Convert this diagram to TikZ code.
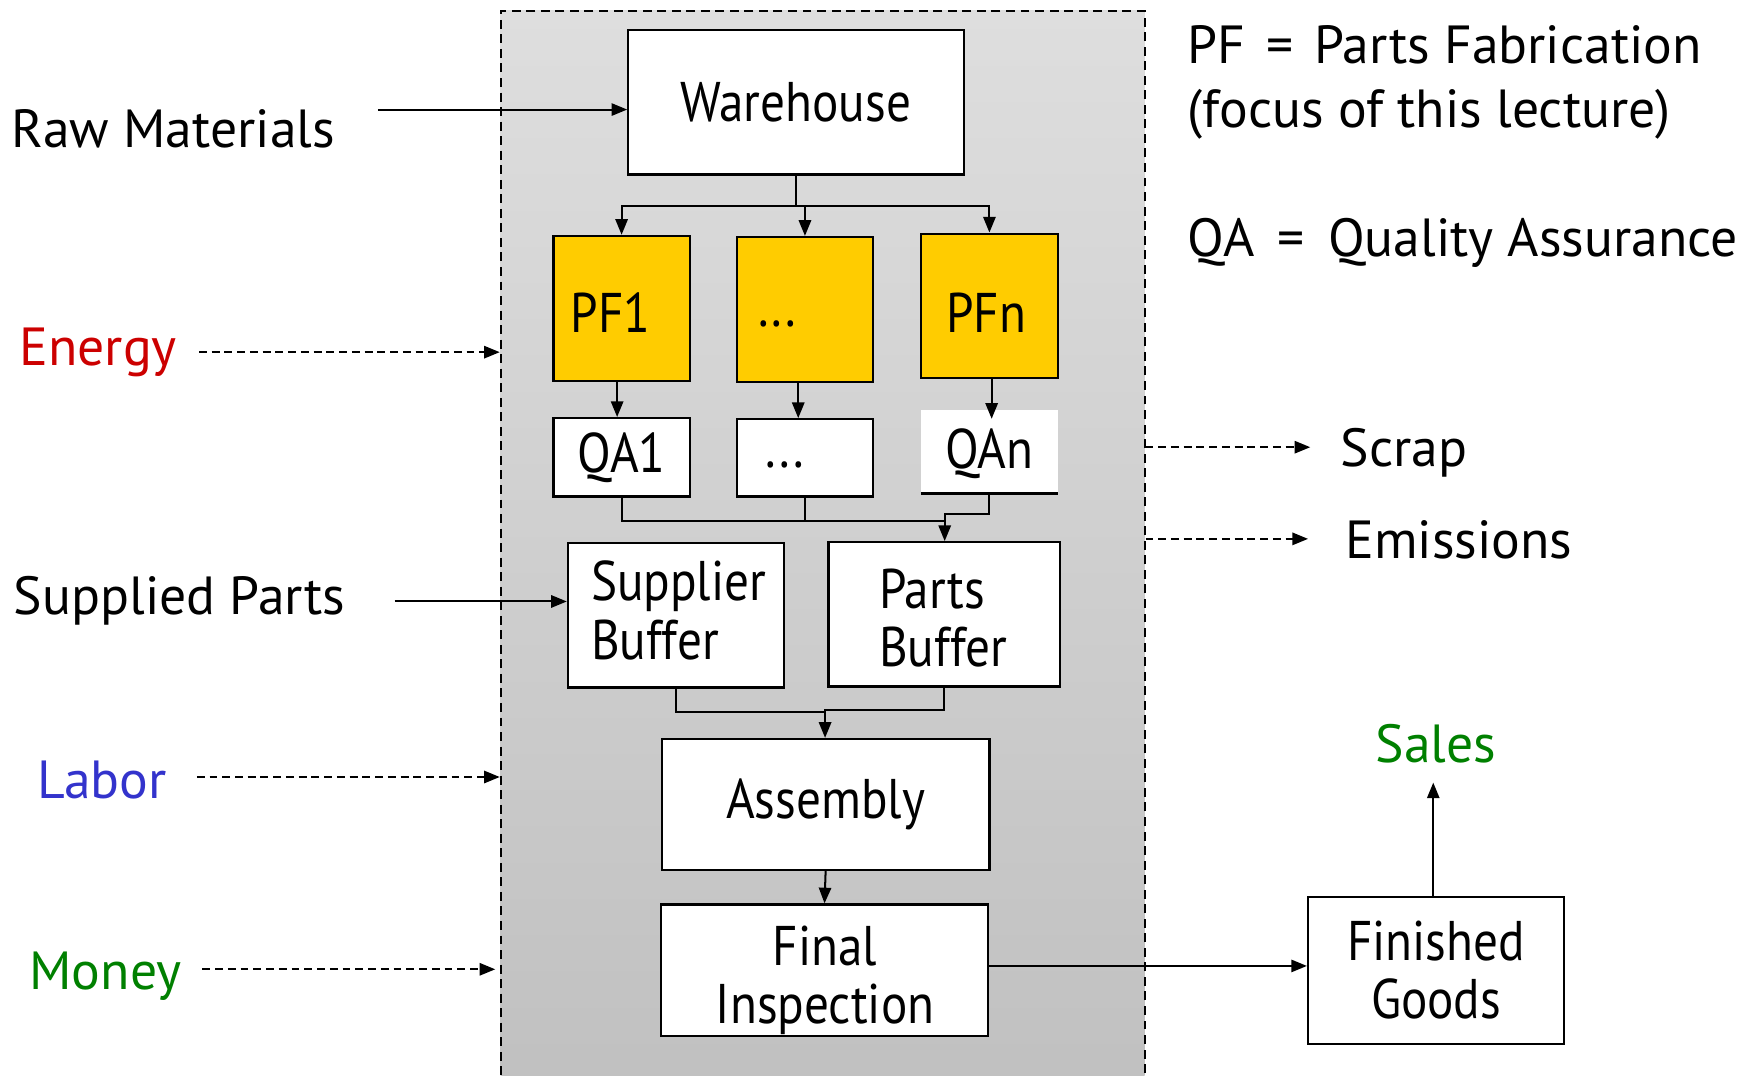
\documentclass[tikz,border=0pt]{standalone}
\usepackage{fontspec}
\setmainfont{PT Sans}
\newfontfamily\bxfont[FakeStretch=0.88]{PT Sans}
\usetikzlibrary{arrows.meta}
\definecolor{pfyellow}{RGB}{255,204,0}
\definecolor{gtop}{RGB}{222,222,222}
\definecolor{gbot}{RGB}{192,192,192}
\definecolor{ered}{RGB}{204,0,0}
\definecolor{lblue}{RGB}{51,51,204}
\definecolor{mgreen}{RGB}{0,128,0}
\begin{document}
\begin{tikzpicture}[x=0.5pt,y=-0.5pt,
  font=\fontsize{24}{26}\selectfont,
  box/.style={draw=black, line width=1pt, fill=white, inner sep=0pt},
  pfbox/.style={box, fill=pfyellow},
  bt/.style={inner sep=0pt, font=\bxfont\fontsize{25}{26}\selectfont},
  lbl/.style={anchor=base west, inner sep=0pt},
  arr/.style={-{Triangle[length=7pt,width=5.5pt]}, line width=0.9pt},
  con/.style={line width=0.9pt},
  darr/.style={arr, dash pattern=on 3.5pt off 2.2pt}]
\useasboundingbox (0,0) rectangle (1568,962);
\clip (0,0) rectangle (1568,962);
% plant area
\node[draw, dash pattern=on 4pt off 2.5pt, line width=0.8pt, top color=gtop, bottom color=gbot,
      minimum width=288pt, minimum height=486pt, inner sep=0pt, anchor=north west] (plant) at (447,9) {};
% boxes
\node[box, bt, minimum width=150pt, minimum height=64.5pt] (wh) at (712,91.5) {Warehouse};
\node[pfbox, minimum width=61pt, minimum height=65pt] (pf1) at (556,276) {};
\node[pfbox, minimum width=61pt, minimum height=65pt] (pf2) at (720,277) {};
\node[pfbox, minimum width=61pt, minimum height=64.5pt] (pfn) at (885,273.5) {};
\node[bt] (pf1t) at (546,280) {PF1};
\node[bt] (pf2t) at (695,290) {...};
\node[bt] (pfnt) at (882,280) {PFn};
\node[box, bt, minimum width=61pt, minimum height=35pt] (qa1) at (556,409) {QA1};
\node[box, minimum width=61pt, minimum height=34.5pt] (qa2) at (720,409.5) {};
\node[bt] (qa2t) at (702,416) {...};
\node[fill=white, inner sep=0pt, minimum width=61pt, minimum height=37pt] (qan) at (885,404) {};
\draw[line width=1pt] (qan.south west) -- (qan.south east);
\node[bt] (qant) at (885,406) {QAn};
\node[box, minimum width=96.5pt, minimum height=64.5pt] (sb) at (604.5,550.5) {};
\node[bt, align=left] (sbt) at (607,546) {Supplier\\Buffer};
\node[box, minimum width=103.5pt, minimum height=64.5pt] (pb) at (844.5,549.5) {};
\node[bt, align=left] (pbt) at (843.5,553) {Parts\\Buffer};
\node[box, bt, minimum width=146.5pt, minimum height=58.5pt] (asm) at (738.5,719.5) {Assembly};
\node[box, minimum width=146.5pt, minimum height=59pt] (fi) at (737.5,868) {};
\node[bt, align=center] (fit) at (738,877) {Final\\Inspection};
\node[box, bt, align=center, minimum width=114.5pt, minimum height=66pt] (fg) at (1284.5,868) {Finished\\Goods};
% labels
\node[lbl] (rm) at (10,132) {Raw Materials};
\node[lbl, text=ered] (en) at (17,327) {Energy};
\node[lbl] (sp) at (12,550) {Supplied Parts};
\node[lbl, text=lblue] (lab) at (33,714) {Labor};
\node[lbl, text=mgreen] (mon) at (26,885) {Money};
\node[lbl] (pfdef) at (1062,57) {PF\hspace{3pt} = \hspace{3pt}Parts Fabrication};
\node[lbl] (focus) at (1062,114) {(focus of this lecture)};
\node[lbl] (qadef) at (1062,229) {QA\hspace{4pt} = \hspace{4pt}Quality Assurance};
\node[lbl] (scrap) at (1199,417) {Scrap};
\node[lbl] (emis) at (1203,500) {Emissions};
\node[lbl, text=mgreen] (sales) at (1230,682) {Sales};
% coordinates for free ends
\coordinate (rmS) at (338,98);
\coordinate (enS) at (178,315);
\coordinate (spS) at (353,538);
\coordinate (labS) at (176,695);
\coordinate (monS) at (181,867);
\coordinate (scE) at (1172,400);
\coordinate (emE) at (1170,482);
\coordinate (salE) at (1282,700);
\coordinate (j1) at (712,184);
\coordinate (j2) at (845,466);
\coordinate (j3) at (845,460);
\coordinate (j4) at (738,637);
\coordinate (j5) at (738,635);
% inputs
\draw[arr] (rmS) -- (rmS -| wh.west);
\draw[darr] (enS) -- (enS -| plant.west);
\draw[arr] (spS) -- (spS -| sb.west);
\draw[darr] (labS) -- (labS -| plant.west);
\draw[darr] (monS) -- ([xshift=-2pt]monS -| plant.west);
% outputs
\draw[darr] (scE -| plant.east) -- (scE);
\draw[darr] (emE -| plant.east) -- (emE);
\draw[arr] ([yshift=2pt]fi.east) -- ([yshift=2pt]fi.east -| fg.west);
\draw[arr] (fg.north -| salE) -- (salE);
% internal flow
\draw[con] (wh.south) -- (j1);
\draw[arr] (j1) -| (pf1.north);
\draw[arr] (j1) -| (pf2.north);
\draw[arr] (j1) -| (pfn.north);
\draw[arr] ([xshift=-2pt]pf1.south) -- ([xshift=-2pt]qa1.north);
\draw[arr] ([xshift=-3pt]pf2.south) -- ([xshift=-3pt]qa2.north);
\draw[arr] ([xshift=1pt]pfn.south) -- ([xshift=1pt,yshift=-4pt]qan.north);
\draw[con] (qa1.south) |- (j2);
\draw[con] (qa2.south) -- (qa2.south |- j2);
\draw[arr] (qan.south) |- (j3) -- (j3 |- pb.north);
\draw[con] (sb.south) |- (j4);
\draw[arr] (pb.south) |- (j5) -- (j5 |- asm.north);
\draw[arr] (asm.south) -- (fi.north);
\end{tikzpicture}
\end{document}
